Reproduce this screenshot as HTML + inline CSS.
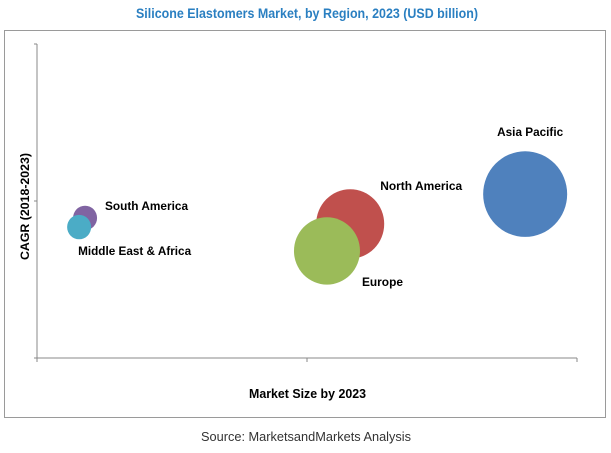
<!DOCTYPE html>
<html><head><meta charset="utf-8"><style>
html,body{margin:0;padding:0;background:#fff;}
body{width:611px;height:448px;overflow:hidden;font-family:"Liberation Sans",sans-serif;}
</style></head><body>
<svg id="chart" width="611" height="448" xmlns="http://www.w3.org/2000/svg">
<text x="136" y="18" textLength="342" lengthAdjust="spacingAndGlyphs" font-size="14" font-weight="bold" fill="#2a7fc1">Silicone Elastomers Market, by Region, 2023 (USD billion)</text>
<rect x="4.5" y="30.5" width="601" height="387" fill="#fff" stroke="#9a9a9a" stroke-width="1"/>
<g id="axes"></g>
<g id="bubbles"></g>
<text x="249" y="398" textLength="117" lengthAdjust="spacingAndGlyphs" font-size="13" font-weight="bold" fill="#000">Market Size by 2023</text>
<text transform="translate(29,260) rotate(-90)" textLength="107" lengthAdjust="spacingAndGlyphs" font-size="12" font-weight="bold" fill="#000">CAGR (2018-2023)</text>
<text x="201" y="441" textLength="210" lengthAdjust="spacingAndGlyphs" font-size="13" fill="#333">Source: MarketsandMarkets Analysis</text>
</svg>
<script>
const regions=["Asia Pacific","North America","Europe","South America","Middle East & Africa"];
const marketSize=[0.904,0.580,0.537,0.089,0.078];
const cagr=[0.522,0.427,0.341,0.446,0.417];
const bubbleSize=[42,34,33,12,12];
const colors=["#4f81bd","#c0504d","#9bbb59","#8064a2","#4bacc6"];
const NS="http://www.w3.org/2000/svg";
const X0=37,X1=577,Y0=358,Y1=44;
function xs(v){return X0+v*(X1-X0);}
function ys(v){return Y0-v*(Y0-Y1);}
function mk(t,a,p){const e=document.createElementNS(NS,t);for(const k in a)e.setAttribute(k,a[k]);p.appendChild(e);return e;}
const ax=document.getElementById('axes');
let l=mk('line',{x1:X0,y1:Y1,x2:X0,y2:Y0,stroke:'#888'},ax);


l=mk('line',{x1:X0,y1:Y0,x2:X1,y2:Y0,stroke:'#888'},ax);


[0,0.5,1].forEach(v=>{mk('line',{x1:X0-3,y1:ys(v),x2:X0,y2:ys(v),stroke:'#888'},ax);mk('line',{x1:xs(v),y1:Y0,x2:xs(v),y2:Y0+4,stroke:'#888'},ax);});
const labelOff=[[-28,-58],[30,-34],[35,35],[20,-8],[-1,28]];
const labelW=[66,82,41,83,113];
const g=document.getElementById('bubbles');
[0,1,2,3,4].forEach(i=>{
 const c=mk('ellipse',{cx:xs(marketSize[i]),cy:ys(cagr[i]),rx:bubbleSize[i],ry:bubbleSize[i]*1.02,fill:colors[i]},g);
 
 
});
[0,1,2,3,4].forEach(i=>{
 const cx=xs(marketSize[i]),cy=ys(cagr[i]);
 const t=mk('text',{x:cx+labelOff[i][0],y:cy+labelOff[i][1],'font-size':12,'font-weight':'bold',fill:'#000',textLength:labelW[i],lengthAdjust:'spacingAndGlyphs'},g);
 t.textContent=regions[i];
 
 
});
</script>
</body></html>
